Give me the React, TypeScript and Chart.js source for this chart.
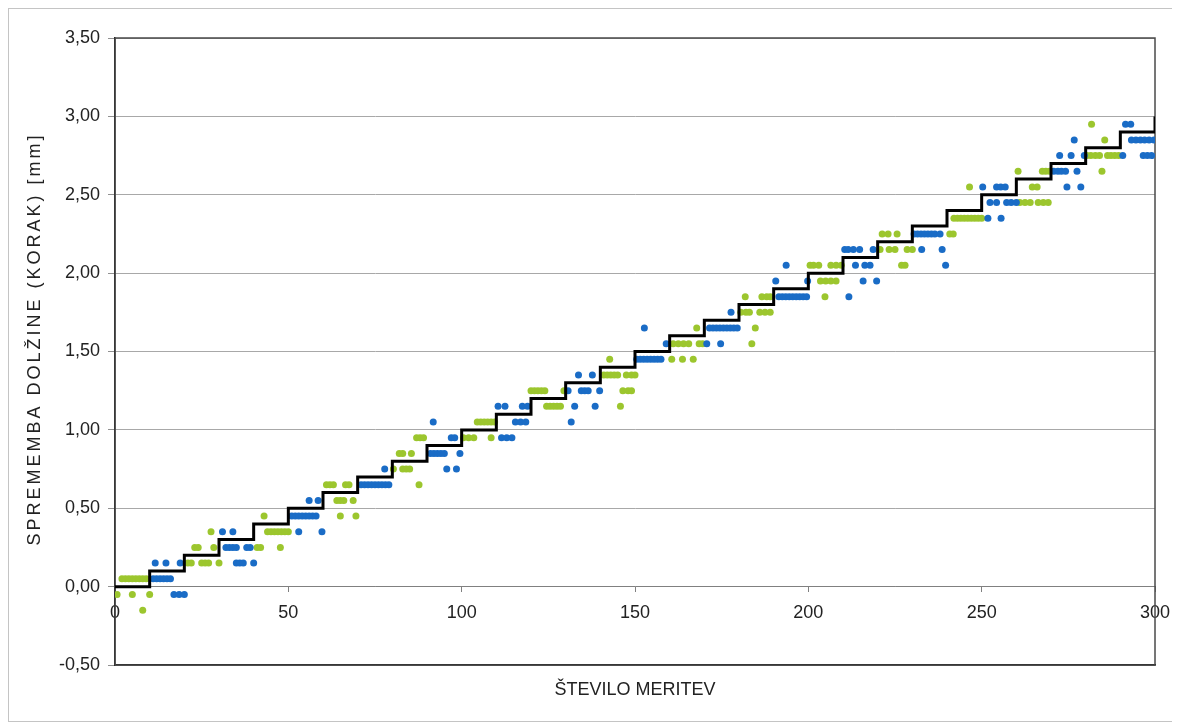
import React, { useEffect, useRef } from 'react';
import { Chart, registerables } from 'chart.js';

Chart.register(...registerables);

// Reference step line (target value per 10 measurements)
const stepX = [0, 10, 20, 30, 40, 50, 60, 70, 80, 90, 100, 110, 120, 130, 140, 150, 160, 170, 180, 190, 200, 210, 220, 230, 240, 250, 260, 270, 280, 290, 300];
const stepY = [0, 0.1, 0.2, 0.3, 0.4, 0.5, 0.6, 0.7, 0.8, 0.9, 1.0, 1.1, 1.2, 1.3, 1.4, 1.5, 1.6, 1.7, 1.8, 1.9, 2.0, 2.1, 2.2, 2.3, 2.4, 2.5, 2.6, 2.7, 2.8, 2.9, 3.0];

// Blue measurement series
const blueX = [
  11, 12, 13, 14, 15, 16, 11.6, 14.7, 18.8, 17, 18.5, 20,
  31, 34, 32, 33, 34, 35, 38, 39, 35, 36, 37, 40,
  51, 52, 53, 54, 55, 56, 57, 58, 56, 58.6, 53, 59.7,
  71, 72, 73, 74, 75, 76, 77, 78, 79, 77.8,
  91, 92, 93, 94, 95, 99.5, 97, 98, 95.7, 98.5, 91.8,
  111.5, 113, 114.5, 115.5, 117, 118.5, 110.5, 112.5, 117.5, 119,
  130.7, 134.5, 135.5, 136.5, 139.8, 132.6, 138.5, 133.7, 137.7, 131.6,
  150.5, 151.5, 152.5, 153.5, 154.5, 155.5, 156.5, 157.5, 152.7, 159,
  170.7, 174.7, 171.5, 172.5, 173.5, 174.5, 175.5, 176.5, 177.5, 178.5, 179.5, 177.7,
  191.5, 192.5, 193.5, 194.5, 195.5, 196.5, 197.5, 198.5, 199.5, 190.6, 199.8, 193.6,
  210.5, 211.5, 213, 214.8, 218.7, 213.6, 216.3, 217.8, 215.8, 219.7, 211.7,
  230.5, 231.5, 232.5, 233.5, 234.5, 235.5, 236.5, 238, 232.7, 238.6, 239.6,
  251.8, 255.6, 252.4, 254.3, 257.2, 258.5, 260, 250.3, 254.3, 255.5, 256.8,
  270.8, 272, 273, 274.2, 277.5, 274.6, 278.6, 272.5, 275.8, 279.6, 276.7,
  290.7, 296.6, 297.8, 299, 293.2, 294.5, 295.8, 297, 298.3, 299.7, 291.5, 293,
];
const blueY = [
  0.05, 0.05, 0.05, 0.05, 0.05, 0.05, 0.15, 0.15, 0.15, -0.05, -0.05, -0.05,
  0.35, 0.35, 0.25, 0.25, 0.25, 0.25, 0.25, 0.25, 0.15, 0.15, 0.15, 0.15,
  0.45, 0.45, 0.45, 0.45, 0.45, 0.45, 0.45, 0.45, 0.55, 0.55, 0.35, 0.35,
  0.65, 0.65, 0.65, 0.65, 0.65, 0.65, 0.65, 0.65, 0.65, 0.75,
  0.85, 0.85, 0.85, 0.85, 0.85, 0.85, 0.95, 0.95, 0.75, 0.75, 1.05,
  0.95, 0.95, 0.95, 1.05, 1.05, 1.05, 1.15, 1.15, 1.15, 1.15,
  1.25, 1.25, 1.25, 1.25, 1.25, 1.15, 1.15, 1.35, 1.35, 1.05,
  1.45, 1.45, 1.45, 1.45, 1.45, 1.45, 1.45, 1.45, 1.65, 1.55,
  1.55, 1.55, 1.65, 1.65, 1.65, 1.65, 1.65, 1.65, 1.65, 1.65, 1.65, 1.75,
  1.85, 1.85, 1.85, 1.85, 1.85, 1.85, 1.85, 1.85, 1.85, 1.95, 1.95, 2.05,
  2.15, 2.15, 2.15, 2.15, 2.15, 2.05, 2.05, 2.05, 1.95, 1.95, 1.85,
  2.25, 2.25, 2.25, 2.25, 2.25, 2.25, 2.25, 2.25, 2.15, 2.15, 2.05,
  2.35, 2.35, 2.45, 2.45, 2.45, 2.45, 2.45, 2.55, 2.55, 2.55, 2.55,
  2.65, 2.65, 2.65, 2.65, 2.65, 2.55, 2.55, 2.75, 2.75, 2.75, 2.85,
  2.75, 2.75, 2.75, 2.75, 2.85, 2.85, 2.85, 2.85, 2.85, 2.85, 2.95, 2.95,
];

// Green measurement series
const greenX = [
  0.6, 2, 3, 4, 5, 5, 6, 7, 8, 8, 9, 10,
  21, 22, 25, 26, 27, 30, 23, 24, 28.5, 27.7,
  41, 42, 47.7, 43, 44, 45, 46, 47, 48, 49, 50,
  61, 62, 63, 66.5, 67.5, 64, 65, 66, 68.7, 65, 69.5,
  80.3, 83, 84, 85, 82, 83, 85.5, 87, 88, 89, 87.7,
  100.5, 102, 103.5, 108.5, 104.5, 105.5, 106.5, 107.5, 108.5, 109.5,
  120, 121, 122, 123, 124, 129.5, 124.5, 125.5, 126.5, 127.5, 128.5,
  141, 142, 143, 144, 145, 147.5, 149, 150, 142.7, 146.5, 148, 149, 145.8,
  160.6, 163.7, 166.8, 161, 162.5, 164, 165.5, 168.5, 169.5, 167.8,
  180.5, 182, 183, 186, 187.5, 189, 181.8, 186.6, 188, 189, 183.7, 184.7,
  200.5, 201.5, 203, 206.5, 208, 209.5, 203.5, 205, 206.5, 208, 204.8,
  220.7, 223.3, 225, 228.5, 230, 221.3, 223, 225.6, 226.9, 227.9,
  242, 243, 244, 245, 246, 247, 248, 249, 250, 240.8, 241.8, 246.5,
  261, 262.5, 264, 266.3, 267.8, 269.2, 264.6, 266, 260.5, 267.5, 268.5, 269.6,
  280.4, 281.5, 282.8, 284, 286.3, 287.3, 288.4, 289.5, 285.5, 284.7, 281.7,
];
const greenY = [
  -0.05, 0.05, 0.05, 0.05, 0.05, -0.05, 0.05, 0.05, 0.05, -0.15, 0.05, -0.05,
  0.15, 0.15, 0.15, 0.15, 0.15, 0.15, 0.25, 0.25, 0.25, 0.35,
  0.25, 0.25, 0.25, 0.45, 0.35, 0.35, 0.35, 0.35, 0.35, 0.35, 0.35,
  0.65, 0.65, 0.65, 0.65, 0.65, 0.55, 0.55, 0.55, 0.55, 0.45, 0.45,
  0.75, 0.75, 0.75, 0.75, 0.85, 0.85, 0.85, 0.95, 0.95, 0.95, 0.65,
  0.95, 0.95, 0.95, 0.95, 1.05, 1.05, 1.05, 1.05, 1.05, 1.05,
  1.25, 1.25, 1.25, 1.25, 1.25, 1.25, 1.15, 1.15, 1.15, 1.15, 1.15,
  1.35, 1.35, 1.35, 1.35, 1.35, 1.35, 1.35, 1.35, 1.45, 1.25, 1.25, 1.25, 1.15,
  1.45, 1.45, 1.45, 1.55, 1.55, 1.55, 1.55, 1.55, 1.55, 1.65,
  1.75, 1.75, 1.75, 1.75, 1.75, 1.75, 1.85, 1.85, 1.85, 1.85, 1.55, 1.65,
  2.05, 2.05, 2.05, 2.05, 2.05, 2.05, 1.95, 1.95, 1.95, 1.95, 1.85,
  2.15, 2.15, 2.15, 2.15, 2.15, 2.25, 2.25, 2.25, 2.05, 2.05,
  2.35, 2.35, 2.35, 2.35, 2.35, 2.35, 2.35, 2.35, 2.35, 2.25, 2.25, 2.55,
  2.45, 2.45, 2.45, 2.45, 2.45, 2.45, 2.55, 2.55, 2.65, 2.65, 2.65, 2.65,
  2.75, 2.75, 2.75, 2.75, 2.75, 2.75, 2.75, 2.75, 2.85, 2.65, 2.95,
];

const yTitle = 'SPREMEMBA DOLŽINE (KORAK) [mm]';
const xTitle = 'ŠTEVILO MERITEV';

const BLUE = '#1a6cc6';
const GREEN = '#9cc62e';
const FONT = 'Liberation Sans, Arial, sans-serif';

const toPts = (xs: number[], ys: number[]) => xs.map((x, i) => ({ x, y: ys[i] }));

const framePlugin = {
  id: 'plotFrame',
  beforeDatasetsDraw(chart: any) {
    const { ctx, chartArea } = chart;
    ctx.save();
    ctx.strokeStyle = '#4a4a4a';
    ctx.lineWidth = 1.5;
    ctx.strokeRect(chartArea.left, chartArea.top, chartArea.right - chartArea.left, chartArea.bottom - chartArea.top);
    ctx.restore();
  },
};

// Y axis title, drawn with the slightly widened letter spacing of the original
const yTitlePlugin = {
  id: 'yTitleSpaced',
  afterDraw(chart: any) {
    const { ctx } = chart;
    ctx.save();
    ctx.translate(26, 330);
    ctx.rotate(-Math.PI / 2);
    ctx.font = `18px ${FONT}`;
    (ctx as any).letterSpacing = '3px';
    ctx.fillStyle = '#222222';
    ctx.textAlign = 'center';
    ctx.textBaseline = 'middle';
    ctx.fillText(yTitle, 0, 0);
    ctx.restore();
  },
};

export default function App() {
  const ref = useRef<HTMLCanvasElement | null>(null);

  useEffect(() => {
    if (!ref.current) return;
    const chart = new Chart(ref.current, {
      type: 'scatter',
      data: {
        datasets: [
          {
            type: 'line',
            label: 'Korak',
            data: toPts(stepX, stepY),
            borderColor: '#000000',
            borderWidth: 3,
            pointRadius: 0,
            stepped: 'before',
            fill: false,
            showLine: true,
          } as any,
          {
            label: 'Meritev 1',
            data: toPts(blueX, blueY),
            backgroundColor: BLUE,
            borderColor: BLUE,
            pointRadius: 3.5,
            borderWidth: 0,
          },
          {
            label: 'Meritev 2',
            data: toPts(greenX, greenY),
            backgroundColor: GREEN,
            borderColor: GREEN,
            pointRadius: 3.5,
            borderWidth: 0,
          },
        ],
      },
      options: {
        animation: false,
        responsive: false,
        layout: { padding: { top: 29, right: 20, left: 0, bottom: 0 } },
        plugins: {
          legend: { display: false },
          tooltip: { enabled: false },
        },
        scales: {
          x: {
            type: 'linear',
            position: 'bottom',
            min: 0,
            max: 300,
            ticks: { display: false, stepSize: 50 },
            grid: { display: false },
            border: { display: true, color: '#000000', width: 1.5 },
            title: {
              display: true,
              text: xTitle,
              color: '#222222',
              font: { family: FONT, size: 18 },
              padding: { top: 0, bottom: 20 },
            },
            afterFit: (s: any) => { s.height = 56; s.paddingLeft = 0; s.paddingRight = 0; },
          },
          xc: {
            type: 'linear',
            axis: 'x',
            position: { y: 0 },
            min: 0,
            max: 300,
            ticks: {
              stepSize: 50,
              color: '#222222',
              font: { family: FONT, size: 18 },
              padding: 11,
              maxRotation: 0,
              callback: (v: any) => String(v),
            },
            grid: { display: true, drawOnChartArea: false, drawTicks: true, tickLength: 5, color: '#808080' },
            border: { display: true, color: '#808080', width: 1 },
            afterFit: (s: any) => { s.paddingLeft = 0; s.paddingRight = 0; },
          } as any,
          y: {
            type: 'linear',
            min: -0.5,
            max: 3.5,
            ticks: {
              stepSize: 0.5,
              color: '#222222',
              font: { family: FONT, size: 18 },
              padding: 8,
              callback: (v: any) => Number(v).toFixed(2).replace('.', ','),
            },
            grid: { color: '#a8a8a8', lineWidth: 1, tickLength: 7, tickColor: '#909090' },
            border: { display: true, color: '#000000', width: 1.5 },
            title: { display: false },
            afterFit: (s: any) => { s.width = 106; },
          },
        },
      },
      plugins: [framePlugin, yTitlePlugin],
    });
    return () => chart.destroy();
  }, []);

  return (
    <div style={{ width: 1166, height: 712, border: '1px solid #c4c4c4', background: '#ffffff' }}>
      <canvas ref={ref} width={1166} height={712} style={{ display: 'block' }} />
    </div>
  );
}
